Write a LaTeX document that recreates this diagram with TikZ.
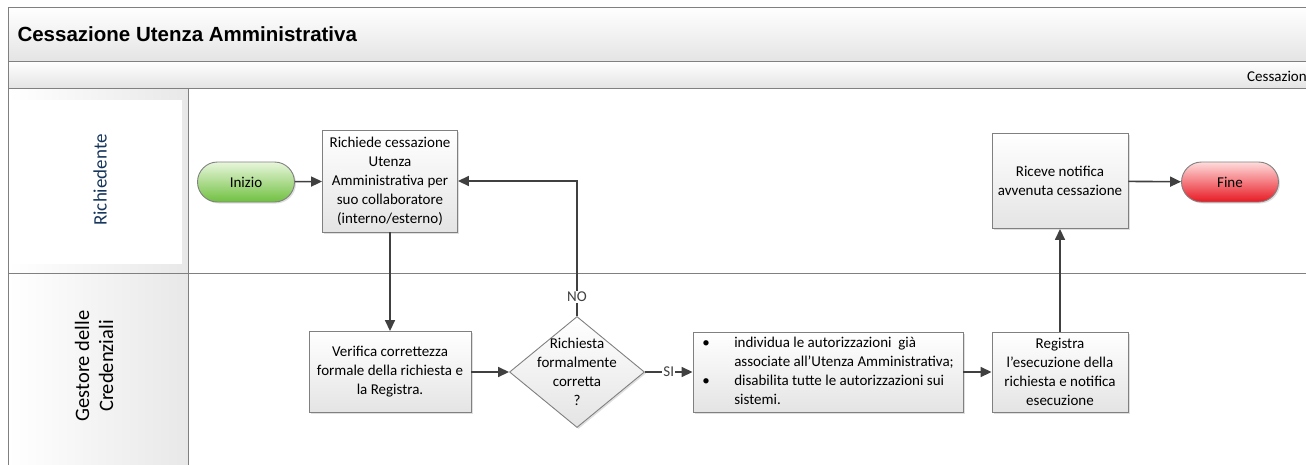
\documentclass[tikz,border=0pt]{standalone}
\usepackage{fontspec}
\setmainfont{Carlito}
\newfontfamily\titlefont{Liberation Sans}
\usetikzlibrary{arrows.meta,shadows,shapes.geometric}

\definecolor{lineGray}{RGB}{128,128,128}
\definecolor{arrowGray}{RGB}{64,64,64}
\definecolor{barBot}{RGB}{228,228,228}
\definecolor{boxBot}{RGB}{228,228,228}
\definecolor{laneBot}{RGB}{232,232,232}
\definecolor{laneBlue}{RGB}{23,54,93}
\definecolor{inizioTop}{RGB}{232,246,220}
\definecolor{inizioBot}{RGB}{112,192,64}
\definecolor{fineTop}{RGB}{255,220,220}
\definecolor{fineBot}{RGB}{232,24,34}

\tikzset{
  boxfont/.style={font=\fontsize{15}{19}\selectfont},
  procbox/.style={boxfont,draw=lineGray,line width=0.9pt,top color=white,bottom color=boxBot,
    align=center,inner sep=4pt,drop shadow={shadow xshift=1.5pt,shadow yshift=-1.5pt,opacity=0.25}},
  decbox/.style={procbox,shape=diamond,inner sep=0pt},
  termbox/.style={boxfont,draw=lineGray,line width=0.9pt,rounded corners=20pt,
    minimum width=97pt,minimum height=40pt,drop shadow={shadow xshift=1.5pt,shadow yshift=-1.5pt,opacity=0.25}},
  flow/.style={arrowGray,line width=1.6pt,-{Triangle[length=11pt,width=10pt]}},
  flowlabel/.style={boxfont,fill=white,inner sep=1pt},
}

\begin{document}
\begin{tikzpicture}[x=1pt,y=-1pt]
\useasboundingbox (0,0) rectangle (1306,464);
\clip (0,0) rectangle (1306,464);
% pool and lanes
\shade[top color=white,bottom color=barBot,draw=lineGray,line width=0.8pt] (8,7) rectangle (1320,61);
\shade[top color=white,bottom color=barBot,draw=lineGray,line width=0.8pt] (8,61) rectangle (1320,88);
\node[anchor=west,font=\titlefont\bfseries\fontsize{20.5}{24}\selectfont] (titolo) at (14,34) {Cessazione Utenza Amministrativa};
\node[anchor=west,boxfont,inner sep=0pt] (sottotitolo) at (1247,76) {Cessazion};
\shade[left color=white,right color=laneBot] (8,88) rectangle (188,273);
\fill[white] (8,100) rectangle (182,264);
\shade[left color=white,right color=laneBot] (8,273) rectangle (188,470);
\draw[lineGray,line width=0.8pt] (8,88) rectangle (1320,470);
\draw[lineGray,line width=0.8pt] (8,273) -- (1320,273);
\draw[lineGray,line width=0.8pt] (188,88) -- (188,470);
\node[rotate=90,text=laneBlue,font=\fontsize{19}{23}\selectfont] (richiedente) at (100,180) {Richiedente};
\node[rotate=90,align=center,font=\fontsize{20.5}{24}\selectfont] (gestore) at (94,366) {Gestore delle\\Credenziali};
% flow nodes
\node[termbox,top color=inizioTop,bottom color=inizioBot] (inizio) at (246,182) {Inizio};
\node[procbox,minimum width=135pt,minimum height=102pt] (richiede) at (390,181) {Richiede cessazione\\Utenza\\Amministrativa per\\suo collaboratore\\(interno/esterno)};
\node[procbox,minimum width=162pt,minimum height=81pt] (verifica) at (390,372) {Verifica correttezza\\formale della richiesta e\\la Registra.};
\node[decbox,minimum width=135pt,minimum height=111pt,
  label={[boxfont,align=center]center:Richiesta\\formalmente\\corretta\\?}] (decisione) at (577,372) {};
\node[procbox,minimum width=270pt,minimum height=80pt,align=left,inner sep=0pt] (individua) at (828,372) {%
  \begin{tabular}{@{}p{32pt}@{}l@{}}
  \textbullet & individua le autorizzazioni\ \ già\\
   & associate all’Utenza Amministrativa;\\
  \textbullet & disabilita tutte le autorizzazioni sui\\
   & sistemi.
  \end{tabular}};
\node[procbox,minimum width=136pt,minimum height=80pt] (registra) at (1060,372) {Registra\\l’esecuzione della\\richiesta e notifica\\esecuzione};
\node[procbox,minimum width=136pt,minimum height=95pt] (riceve) at (1060,181) {Riceve notifica\\avvenuta cessazione};
\node[termbox,top color=fineTop,bottom color=fineBot] (fine) at (1230,182) {Fine};
% connectors
\draw[flow] (inizio) -- (richiede);
\draw[flow] (richiede) -- (verifica);
\draw[flow] (verifica) -- (decisione);
\draw[flow] (decisione.north) |- node[flowlabel,pos=0.07] {NO} (richiede.east);
\draw[flow] (decisione) -- node[flowlabel] {SI} (individua);
\draw[flow] (individua) -- (registra);
\draw[flow] (registra) -- (riceve);
\draw[flow] (riceve) -- (fine);
\end{tikzpicture}
\end{document}
